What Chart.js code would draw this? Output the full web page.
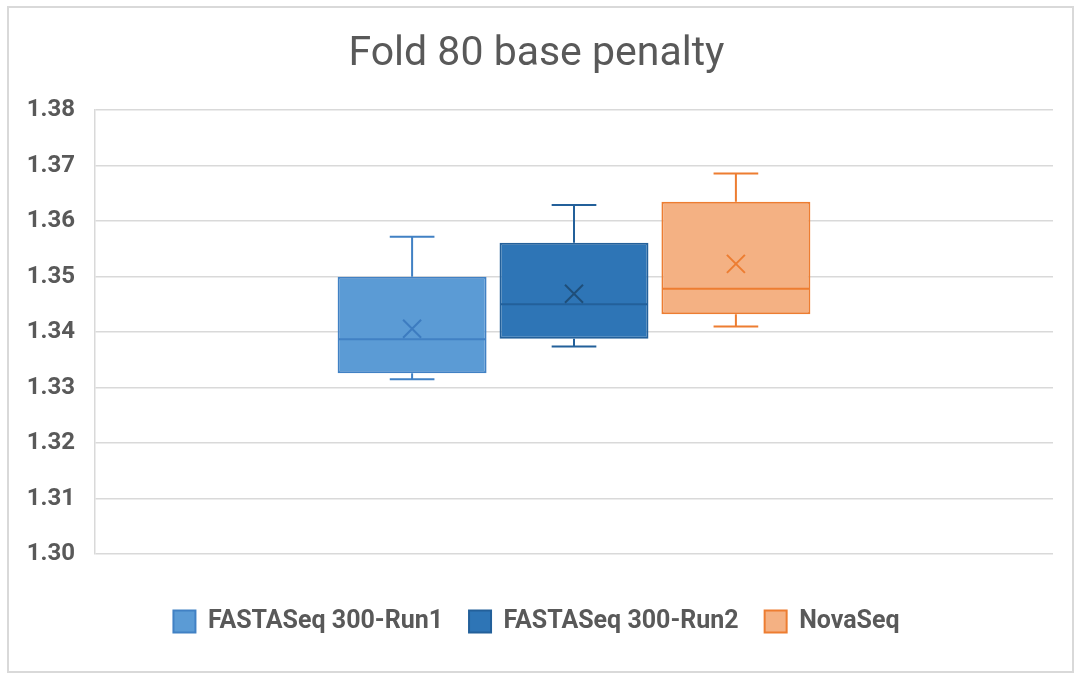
<!DOCTYPE html>
<html lang="en">
<head>
<meta charset="UTF-8">
<title>Fold 80 base penalty</title>
<script src="https://cdn.jsdelivr.net/npm/chart.js"></script>
<style>
  html, body { margin: 0; padding: 0; background: #fff; }
  #wrap { position: relative; width: 1080px; height: 681px; }
</style>
</head>
<body>
<div id="wrap"><canvas id="boxChart"></canvas></div>
<script>
// box plot values
const categories = ['FASTASeq 300-Run1', 'FASTASeq 300-Run2', 'NovaSeq'];
const minValues = [1.3315, 1.3374, 1.3410];
const q1Values = [1.3326, 1.3388, 1.3432];
const medianValues = [1.3387, 1.3450, 1.3478];
const q3Values = [1.3500, 1.3561, 1.3635];
const maxValues = [1.3572, 1.3629, 1.3686];
const meanValues = [1.3406, 1.3469, 1.3523];
const yTicks = [1.30, 1.31, 1.32, 1.33, 1.34, 1.35, 1.36, 1.37, 1.38];

const fills = ['#5b9bd5', '#2e75b6', '#f4b183'];
const borders = ['#4181c4', '#23609a', '#ed7d31'];
const marks = ['#3d7cc0', '#1f4e79', '#ed7d31'];

const datasets = categories.map((name, i) => ({
  label: name,
  data: [[q1Values[i], q3Values[i]]],
  backgroundColor: fills[i],
  borderColor: borders[i],
  borderWidth: 2,
  borderSkipped: false,
  categoryPercentage: 0.507,
  barPercentage: 0.92
}));

// whiskers, median line and mean cross
const boxExtras = {
  id: 'boxExtras',
  afterDatasetsDraw(chart) {
    const ctx = chart.ctx;
    const y = chart.scales.y;
    chart.data.datasets.forEach((ds, i) => {
      const bar = chart.getDatasetMeta(i).data[0];
      if (!bar) return;
      const x = bar.x;
      const half = bar.width / 2;
      const cap = bar.width * 0.15;
      const yMin = y.getPixelForValue(minValues[i]);
      const yQ1 = y.getPixelForValue(q1Values[i]);
      const yQ3 = y.getPixelForValue(q3Values[i]);
      const yMax = y.getPixelForValue(maxValues[i]);
      const yMed = y.getPixelForValue(medianValues[i]);
      const yMean = y.getPixelForValue(meanValues[i]);
      ctx.save();
      ctx.strokeStyle = borders[i];
      ctx.lineWidth = 2;
      ctx.beginPath();
      ctx.moveTo(x, yQ3); ctx.lineTo(x, yMax);
      ctx.moveTo(x - cap, yMax); ctx.lineTo(x + cap, yMax);
      ctx.moveTo(x, yQ1); ctx.lineTo(x, yMin);
      ctx.moveTo(x - cap, yMin); ctx.lineTo(x + cap, yMin);
      ctx.moveTo(x - half + 1, yMed); ctx.lineTo(x + half - 1, yMed);
      ctx.stroke();
      ctx.strokeStyle = marks[i];
      const m = 9;
      ctx.beginPath();
      ctx.moveTo(x - m, yMean - m); ctx.lineTo(x + m, yMean + m);
      ctx.moveTo(x - m, yMean + m); ctx.lineTo(x + m, yMean - m);
      ctx.stroke();
      ctx.restore();
    });
  },
  afterDraw(chart) {
    const ctx = chart.ctx;
    ctx.save();
    ctx.strokeStyle = '#d9d9d9';
    ctx.lineWidth = 2;
    ctx.strokeRect(8, 7, 1065, 665);
    ctx.restore();
  }
};

new Chart(document.getElementById('boxChart'), {
  type: 'bar',
  data: { labels: [''], datasets: datasets },
  options: {
    responsive: true,
    maintainAspectRatio: false,
    animation: false,
    layout: { padding: { left: 20, right: 27, top: 0, bottom: 37 } },
    plugins: {
      title: {
        display: true,
        text: 'Fold 80 base penalty',
        color: '#595959',
        font: { family: 'Roboto', size: 41, weight: 'normal' },
        padding: { top: 30, bottom: 31 }
      },
      legend: {
        position: 'bottom',
        labels: {
          color: '#595959',
          font: { family: 'Roboto', size: 25, weight: 'bold' },
          boxWidth: 22,
          boxHeight: 22,
          padding: 26
        }
      },
      tooltip: { enabled: false }
    },
    scales: {
      x: {
        afterFit(scale) { scale.height = 29; },
        grid: { display: false, drawTicks: false },
        border: { display: false },
        ticks: { display: false }
      },
      y: {
        min: 1.30,
        max: 1.38,
        afterBuildTicks(scale) {
          scale.ticks = yTicks.map(v => ({ value: v }));
        },
        afterFit(scale) { scale.width = 75; },
        grid: { color: '#d9d9d9', lineWidth: 1.5, drawTicks: false },
        border: { display: true, color: '#d9d9d9', width: 1.5 },
        ticks: {
          padding: 20,
          color: '#595959',
          font: { family: 'Roboto', size: 24, weight: 'bold' },
          callback: v => v.toFixed(2)
        }
      }
    }
  },
  plugins: [boxExtras]
});
</script>
</body>
</html>
